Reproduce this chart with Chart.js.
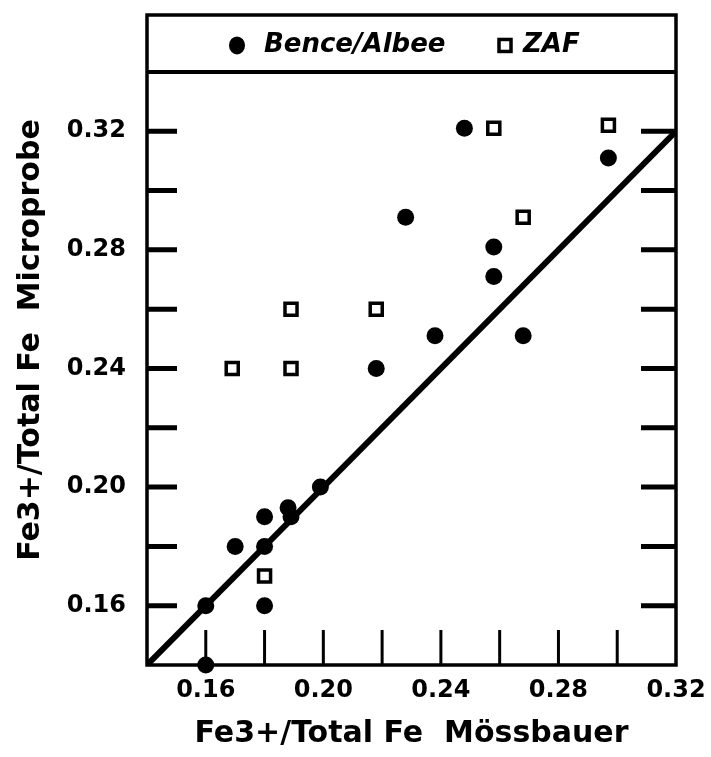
<!DOCTYPE html>
<html>
<head>
<meta charset="utf-8">
<title>Fe3+/Total Fe</title>
<script src="https://cdn.jsdelivr.net/npm/chart.js@4.4.1/dist/chart.umd.min.js"></script>
<style>
  html, body { margin: 0; padding: 0; background: #fff; }
  canvas { display: block; }
</style>
</head>
<body>
<canvas id="scatterChart" width="711" height="757"></canvas>
<script>
'use strict'

// values
const benceX = [0.248, 0.297, 0.228, 0.258, 0.258, 0.238, 0.268, 0.218, 0.199, 0.188, 0.189, 0.180, 0.170, 0.180, 0.160, 0.180, 0.160];
const benceY = [0.321, 0.311, 0.291, 0.281, 0.271, 0.251, 0.251, 0.240, 0.200, 0.193, 0.190, 0.190, 0.180, 0.180, 0.160, 0.160, 0.140];
const zafX = [0.258, 0.297, 0.268, 0.189, 0.218, 0.169, 0.189, 0.180];
const zafY = [0.321, 0.322, 0.291, 0.260, 0.260, 0.240, 0.240, 0.170];
const lineX = [0.14, 0.32];
const lineY = [0.14, 0.32];
const tickLabels = ['0.16', '0.20', '0.24', '0.28', '0.32'];

const FONT = 'DejaVu Sans';

function toPoints(xs, ys) {
  return xs.map(function(x, i) { return { x: x, y: ys[i] }; });
}

function tickLabel(value) {
  const s = value.toFixed(2);
  return tickLabels.indexOf(s) >= 0 ? s : '';
}

// fixed axis sizes, no label overflow padding
function fixSize(w, h) {
  return function(scale) {
    if (w) scale.width = w;
    if (h) scale.height = h;
    scale.paddingTop = 0;
    scale.paddingBottom = 0;
    scale.paddingLeft = 0;
    scale.paddingRight = 0;
  };
}

// frame, legend box and inward tick marks
const framePlugin = {
  id: 'frame',
  afterDraw: function(chart) {
    const ctx = chart.ctx;
    const a = chart.chartArea;
    const xs = chart.scales.x;
    const ys = chart.scales.y;
    const sepY = ys.getPixelForValue(0.34);

    ctx.save();
    ctx.strokeStyle = '#000';
    ctx.lineCap = 'butt';

    // left ticks + right ticks
    ctx.lineWidth = 5;
    ys.ticks.forEach(function(t) {
      if (t.value < 0.15 || t.value > 0.33) return;
      const py = ys.getPixelForValue(t.value);
      ctx.beginPath();
      ctx.moveTo(a.left, py);
      ctx.lineTo(a.left + 30, py);
      ctx.moveTo(a.right, py);
      ctx.lineTo(a.right - 35, py);
      ctx.stroke();
    });

    // bottom ticks
    ctx.lineWidth = 3;
    xs.ticks.forEach(function(t) {
      if (t.value < 0.15 || t.value > 0.31) return;
      const px = xs.getPixelForValue(t.value);
      ctx.beginPath();
      ctx.moveTo(px, a.bottom);
      ctx.lineTo(px, a.bottom - 35);
      ctx.stroke();
    });

    // outer frame
    ctx.lineWidth = 3.5;
    ctx.strokeRect(a.left, a.top, a.right - a.left, a.bottom - a.top);

    // legend separator
    ctx.lineWidth = 4;
    ctx.beginPath();
    ctx.moveTo(a.left, sepY);
    ctx.lineTo(a.right, sepY);
    ctx.stroke();

    // legend
    const ly = (a.top + sepY) / 2 + 2;
    const ds = chart.data.datasets;
    ctx.fillStyle = '#000';
    ctx.beginPath();
    ctx.ellipse(237, ly, 8, 9, 0, 0, Math.PI * 2);
    ctx.fill();
    ctx.lineWidth = 3.5;
    ctx.strokeRect(499, ly - 6, 12, 12);
    ctx.font = 'italic bold 26px "' + FONT + '"';
    ctx.textAlign = 'left';
    ctx.textBaseline = 'middle';
    ctx.fillText(ds[0].label, 264, ly);
    ctx.fillText(ds[1].label, 523, ly);

    ctx.restore();
  }
};

const ctx = document.getElementById('scatterChart').getContext('2d');
const scatterChart = new Chart(ctx, {
  type: 'scatter',
  data: {
    datasets: [
      {
        label: 'Bence/Albee',
        data: toPoints(benceX, benceY),
        pointStyle: 'circle',
        pointRadius: 8.5,
        backgroundColor: '#000',
        borderColor: '#000',
        borderWidth: 0,
        clip: false
      },
      {
        label: 'ZAF',
        data: toPoints(zafX, zafY),
        pointStyle: 'rect',
        pointRadius: 8.5,
        backgroundColor: '#fff',
        borderColor: '#000',
        borderWidth: 3.5
      },
      {
        type: 'line',
        label: '1:1',
        data: toPoints(lineX, lineY),
        borderColor: '#000',
        borderWidth: 6,
        pointRadius: 0,
        showLine: true,
        fill: false
      }
    ]
  },
  options: {
    responsive: false,
    animation: false,
    events: [],
    layout: {
      autoPadding: false,
      padding: { left: 0, right: 35, top: 15, bottom: 0 }
    },
    plugins: {
      legend: { display: false },
      tooltip: { enabled: false }
    },
    scales: {
      x: {
        type: 'linear',
        min: 0.14,
        max: 0.32,
        afterFit: fixSize(0, 92),
        grid: { display: false },
        border: { display: false },
        ticks: {
          stepSize: 0.02,
          includeBounds: false,
          autoSkip: false,
          maxRotation: 0,
          padding: 3,
          color: '#000',
          font: { family: FONT, size: 24, weight: 'bold' },
          callback: tickLabel
        },
        title: {
          display: true,
          text: 'Fe3+/Total Fe  M\u00f6ssbauer',
          color: '#000',
          font: { family: FONT, size: 30, weight: 'bold' },
          padding: { top: 0, bottom: 5 }
        }
      },
      y: {
        type: 'linear',
        min: 0.14,
        max: 0.3592,
        afterFit: fixSize(147, 0),
        grid: { display: false },
        border: { display: false },
        ticks: {
          stepSize: 0.02,
          includeBounds: false,
          autoSkip: false,
          padding: 13,
          color: '#000',
          font: { family: FONT, size: 24, weight: 'bold' },
          callback: tickLabel
        },
        title: {
          display: true,
          text: 'Fe3+/Total Fe  Microprobe',
          color: '#000',
          font: { family: FONT, size: 30, weight: 'bold' },
          padding: { top: 13, bottom: 0 }
        }
      }
    }
  },
  plugins: [framePlugin]
});
</script>
</body>
</html>
